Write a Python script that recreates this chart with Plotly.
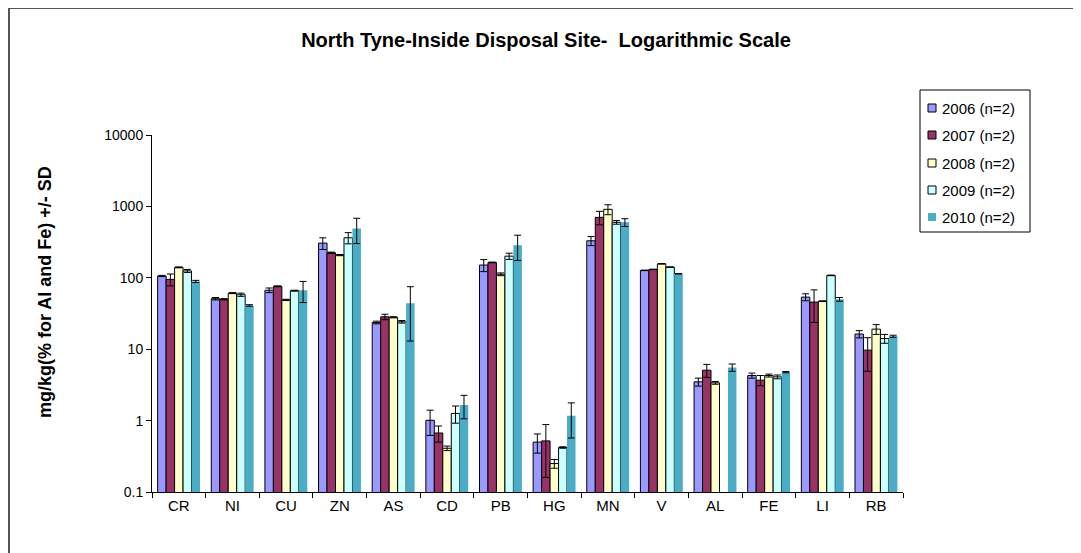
import plotly.graph_objects as go

categories = ["CR", "NI", "CU", "ZN", "AS", "CD", "PB", "HG", "MN", "V", "AL", "FE", "LI", "RB"]
years = ["2006 (n=2)", "2007 (n=2)", "2008 (n=2)", "2009 (n=2)", "2010 (n=2)"]

v2006 = [106, 51, 67, 306, 23.7, 1.01, 151, 0.50, 330, 127, 3.49, 4.28, 53.7, 16.3]
v2007 = [95, 50, 76, 224, 28.4, 0.67, 164, 0.52, 703, 131, 5.08, 3.68, 45.7, 9.7]
v2008 = [140, 61, 49, 208, 28.0, 0.41, 112, 0.25, 910, 157, 3.38, 4.28, 47, 19.1]
v2009 = [125, 58, 66, 364, 24.2, 1.26, 201, 0.42, 598, 141, None, 4.10, 108, 14.1]
v2010 = [89, 41, 67, 492, 44, 1.66, 285, 1.17, 598, 114, 5.55, 4.77, 50, 15.2]

sd2006 = [2, 2, 5, 57, 1.0, 0.39, 29, 0.15, 48, 1, 0.45, 0.35, 6, 1.9]
sd2007 = [18, 1, 1, 5, 2.5, 0.17, 2, 0.36, 150, 1, 1.05, 0.6, 22, 4.8]
sd2008 = [2, 1, 1, 4, 0.5, 0.03, 5, 0.035, 145, 1, 0.15, 0.2, 0.5, 3]
sd2009 = [6, 3, 1, 65, 1.0, 0.34, 20, 0.01, 35, 1, None, 0.25, 1, 2]
sd2010 = [3, 1, 22, 190, 31, 0.6, 110, 0.6, 75, 1, 0.65, 0.1, 3, 0.5]

tickvals = [0.1, 1, 10, 100, 1000, 10000]
ticktext = ["0.1", "1", "10", "100", "1000", "10000"]

values = [v2006, v2007, v2008, v2009, v2010]
sds = [sd2006, sd2007, sd2008, sd2009, sd2010]
colors = ["#9999FF", "#993366", "#FFFFCC", "#CCFFFF", "#4BACC6"]
outline = [1, 1, 1, 1, 0]

FONT = "Arial, Liberation Sans, sans-serif"

# figure geometry (page has an 8px body margin)
W, H = 1073, 545
L, R, T, B = 144, 895, 127, 484
pw, ph = R - L, B - T


def px(x):
    return (x - L) / pw


def py(y):
    return (B - y) / ph


fig = go.Figure()
for name, vals, sd, col, ow in zip(years, values, sds, colors, outline):
    fig.add_trace(go.Bar(
        name=name, x=categories, y=vals,
        marker=dict(color=col, line=dict(color="black", width=ow)),
        error_y=dict(type="data", array=sd, visible=True, color="black",
                     thickness=1, width=3.5),
        showlegend=False,
    ))

shapes = [
    # outer chart border (left and top)
    dict(type="line", xref="paper", yref="paper",
         x0=px(1), x1=px(1), y0=py(0), y1=py(H),
         line=dict(color="#555555", width=2)),
    dict(type="line", xref="paper", yref="paper",
         x0=px(1), x1=px(W), y0=py(0), y1=py(0),
         line=dict(color="#555555", width=2)),
    # legend box
    dict(type="rect", xref="paper", yref="paper",
         x0=px(912), x1=px(1022), y0=py(82), y1=py(224),
         line=dict(color="black", width=1), fillcolor="white"),
]
annotations = [
    dict(text="<b>mg/kg(% for Al and Fe) +/- SD</b>", textangle=-90,
         xref="paper", yref="paper", x=px(37), y=py(284),
         xanchor="center", yanchor="middle", showarrow=False,
         font=dict(size=18, family=FONT, color="black")),
]
rows = [100, 127, 155, 182, 209]
for name, col, ow, ry in zip(years, colors, outline, rows):
    shapes.append(dict(type="rect", xref="paper", yref="paper",
                       x0=px(920), x1=px(928), y0=py(ry - 4), y1=py(ry + 4),
                       fillcolor=col,
                       line=dict(color="black", width=ow if ow else 0)))
    annotations.append(dict(text=name, xref="paper", yref="paper",
                            x=px(932), y=py(ry), xanchor="left", yanchor="middle",
                            showarrow=False,
                            font=dict(size=15, family=FONT, color="black")))

fig.update_layout(
    width=W, height=H,
    margin=dict(l=L, r=W - R, t=T, b=H - B, autoexpand=False),
    paper_bgcolor="white", plot_bgcolor="white",
    barmode="group", bargap=0.21, bargroupgap=0,
    font=dict(family=FONT, size=15, color="black"),
    title=dict(text="<b>North Tyne-Inside Disposal Site-  Logarithmic Scale</b>",
               x=538 / W, xanchor="center", y=1 - 32 / H, yanchor="middle",
               font=dict(size=20)),
    showlegend=False,
    xaxis=dict(showline=True, linecolor="black", linewidth=1, ticks="outside",
               tickson="boundaries", ticklen=5, tickcolor="black",
               showgrid=False, range=[-0.5, 13.5], tickfont=dict(size=15)),
    yaxis=dict(type="log", range=[-1, 4], showline=True, linecolor="black",
               linewidth=1, ticks="outside", ticklen=5, tickcolor="black",
               tickvals=tickvals, ticktext=ticktext, showgrid=False, zeroline=False,
               tickfont=dict(size=14)),
    shapes=shapes,
    annotations=annotations,
)

fig.write_html("out.html")
